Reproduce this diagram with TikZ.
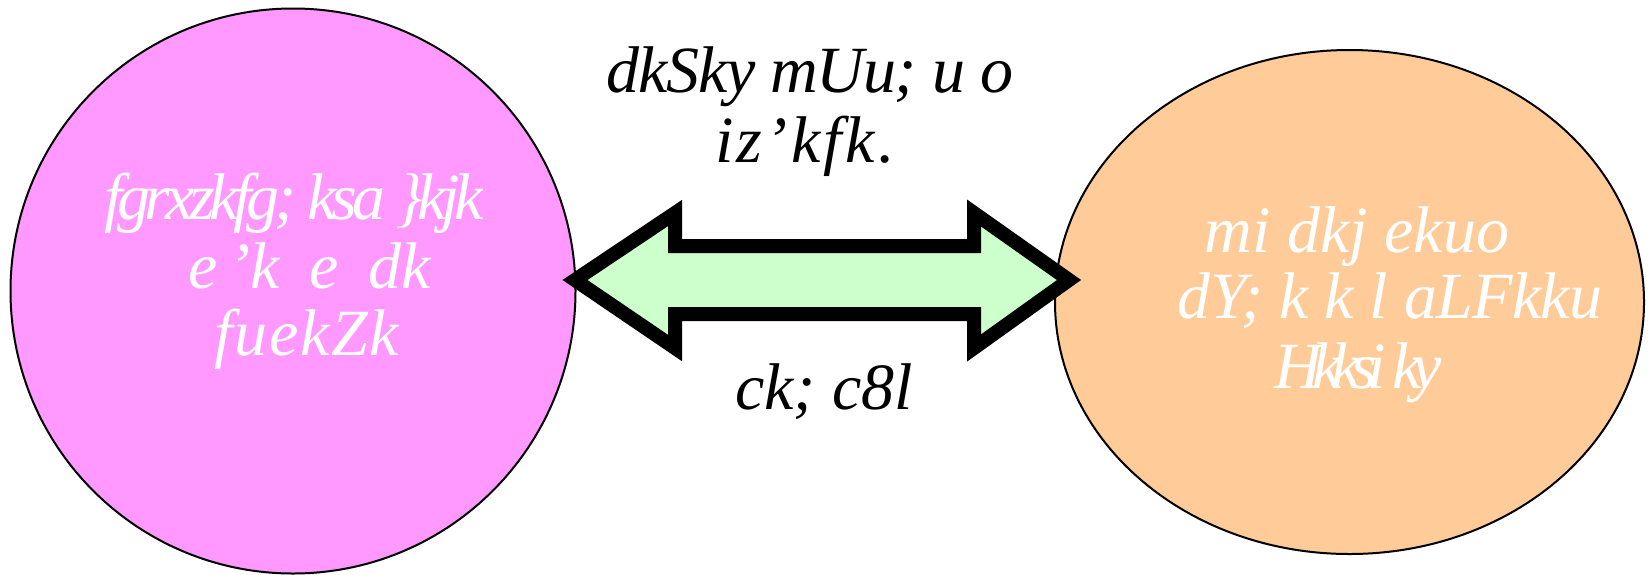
\documentclass[tikz,border=0pt]{standalone}
\usepackage{fontspec}
\setmainfont{Liberation Serif}
\usetikzlibrary{shapes.geometric}
\definecolor{pinkfill}{HTML}{FF99FF}
\definecolor{peachfill}{HTML}{FFCC99}
\definecolor{mintfill}{HTML}{CCFFCC}
% one line of text with its own letter spacing
\newcommand\spaced[2]{{\addfontfeatures{LetterSpace=#1}#2}}
\begin{document}
\begin{tikzpicture}[x=1pt,y=-1pt,
  blob/.style={draw=black,line width=2pt,inner sep=0pt},
  captext/.style={font=\fontsize{66}{68}\selectfont\itshape,inner sep=0pt,
    text height=44pt,text depth=14pt,anchor=base},
  intext/.style={captext,text=white},
  blockarrow/.style={draw=black,fill=mintfill,line width=14pt,line join=miter,miter limit=10}]
\useasboundingbox (0,0) rectangle (1649,574);

% the two partners
\node[blob,circle,fill=pinkfill,minimum size=565pt] (left) at (293,291) {};
\node[blob,ellipse,fill=peachfill,minimum width=589pt,minimum height=504pt] (right) at (1349.5,302) {};

% two-way block arrow between them
\draw[blockarrow] (575,280) -- (675,213) -- (675,246) -- (974,246) -- (974,213)
  -- (1069,280) -- (974,348) -- (974,314) -- (675,314) -- (675,348) -- cycle;

% captions of the arrow
\node[captext] (top1) at (810,92) {\spaced{-2}{dkSky mUu; u o}};
\node[captext] (top2) at (805,162) {\spaced{5}{iz'kfk.}};
\node[captext] (bot) at (824,409) {\spaced{0}{ck; c8l}};

% text in the left circle
\begin{scope}
\clip (0,0) rectangle (482,574);
\node[intext] (l1) at (294,219) {\spaced{-8}{fgrxzkfg; ksa \}kjk}};
\end{scope}
\node[intext] (l2) at (310,288) {e\hspace{10pt}'k\hspace{30pt}e\hspace{30pt}dk};
\node[intext] (l3) at (307,355) {\spaced{2.5}{fuekZk}};

% text in the right ellipse
\node[intext] (r1) at (1357,252) {\spaced{0}{mi dkj ekuo}};
\node[intext] (r2) at (1390,318) {\spaced{-1}{dY; k k l aLFkku}};
\node[intext] (r3) at (1358,388) {\spaced{-14.5}{Hkksi ky}};
\end{tikzpicture}
\end{document}
